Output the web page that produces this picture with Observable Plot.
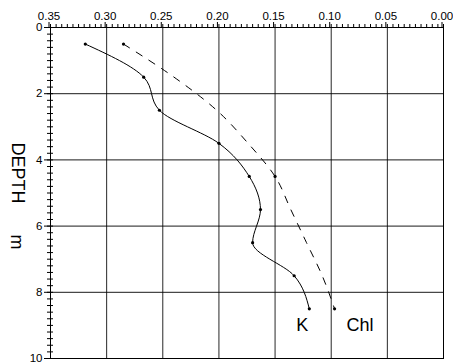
<!DOCTYPE html>
<html><head><meta charset="utf-8">
<script src="https://cdn.jsdelivr.net/npm/d3@7"></script>
<script src="https://cdn.jsdelivr.net/npm/@observablehq/plot@0.6"></script>
<style>body{margin:0;background:#fff}</style>
</head><body><div id="chart"></div>
<script>
// Data
const depths = [0.5, 1.5, 2.5, 3.5, 4.5, 5.5, 6.5, 7.5, 8.5];
const kValues = [0.319, 0.267, 0.253, 0.200, 0.173, 0.163, 0.170, 0.133, 0.1195];
const chlValues = [0.285, 0.240, 0.202, 0.174, 0.150, 0.136, 0.122, 0.108, 0.097];
const chlMarkedDepths = [0.5, 4.5, 8.5];
const seriesNames = ["K", "Chl"];
const xMajorTicks = [0.35, 0.30, 0.25, 0.20, 0.15, 0.10, 0.05, 0.00];
const yMajorTicks = [0, 2, 4, 6, 8, 10];
const yTitle = "DEPTH";
const yUnit = "m";

const K = depths.map((d, i) => ({depth: d, value: kValues[i]}));
const Chl = depths.map((d, i) => ({depth: d, value: chlValues[i]}));
const ChlMarked = Chl.filter(d => chlMarkedDepths.includes(d.depth));

const xMinor = d3.range(0, 71).map(i => i * 0.005);
const yMinor = d3.range(0, 51).map(i => i * 0.2);
const font = "'Liberation Sans', Arial, sans-serif";

const plot = Plot.plot({
  width: 453, height: 364,
  marginLeft: 50, marginRight: 10, marginTop: 27, marginBottom: 6,
  style: {fontFamily: font, fontSize: "11px", background: "white", color: "black"},
  x: {domain: [0.35, 0]},
  y: {domain: [0, 10], reverse: true},
  marks: [
    Plot.gridX(xMajorTicks.slice(1, -1), {stroke: "black", strokeOpacity: 0.85}),
    Plot.gridY(yMajorTicks.slice(1, -1), {stroke: "black", strokeOpacity: 0.9}),
    Plot.frame({stroke: "black"}),
    Plot.axisX(xMinor, {anchor: "top", tickSize: 4, tickFormat: () => "", label: null}),
    Plot.axisX(xMajorTicks, {anchor: "top", tickSize: 6, tickPadding: 2, tickFormat: d => d.toFixed(2), label: null, fontSize: 11.5, dx: -1.5}),
    Plot.axisY(yMinor, {anchor: "left", tickSize: 6, dx: 3, tickFormat: () => "", label: null}),
    Plot.axisY(yMajorTicks, {anchor: "left", tickSize: 6, tickPadding: 2, label: null, fontSize: 11.5}),
    Plot.line(Chl, {x: "value", y: "depth", curve: "monotone-y", stroke: "black", strokeWidth: 1, strokeDasharray: "7,8"}),
    Plot.line(K, {x: "value", y: "depth", curve: "monotone-y", stroke: "black", strokeWidth: 1}),
    Plot.dot(K, {x: "value", y: "depth", r: 1.6, fill: "black", stroke: null}),
    Plot.dot(ChlMarked, {x: "value", y: "depth", r: 1.6, fill: "black", stroke: null}),
    Plot.text([K[K.length - 1]], {x: "value", y: "depth", text: () => seriesNames[0], dx: -7, dy: 16, fontSize: 18, textAnchor: "middle"}),
    Plot.text([Chl[Chl.length - 1]], {x: "value", y: "depth", text: () => seriesNames[1], dx: 12, dy: 16, fontSize: 18, textAnchor: "start"}),
    Plot.text([yTitle], {frameAnchor: "left", textAnchor: "middle", dx: -33, dy: -20, rotate: 90, fontSize: 18}),
    Plot.text([yUnit], {frameAnchor: "left", textAnchor: "middle", dx: -34, dy: 49, rotate: 90, fontSize: 18})
  ]
});
document.getElementById("chart").appendChild(plot);
</script>
</body></html>
